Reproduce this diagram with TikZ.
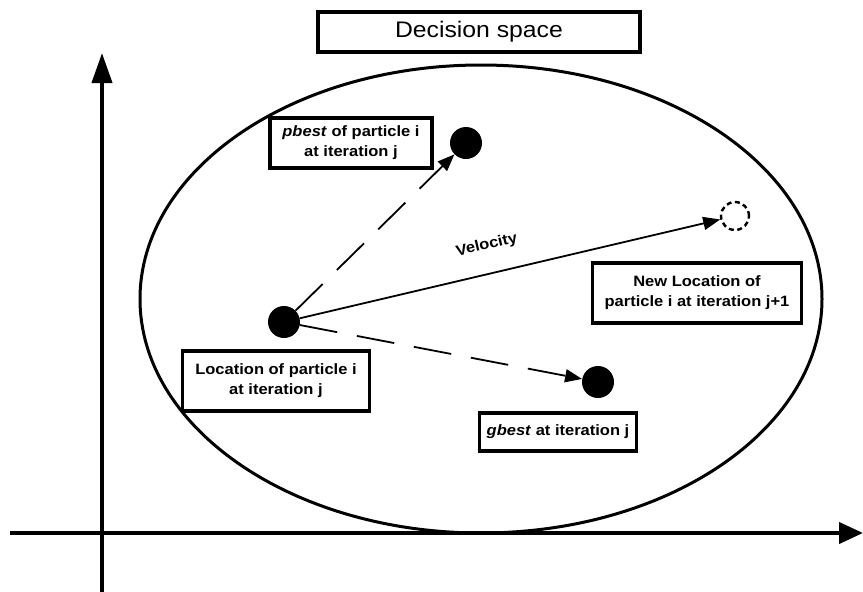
\documentclass[tikz,border=0pt]{standalone}
\usepackage{fontspec}
\setmainfont[FakeStretch=1.1]{Liberation Sans}
\usetikzlibrary{arrows.meta}

\begin{document}
\begin{tikzpicture}[x=1pt,y=-1pt,
  axis/.style={line width=4pt},
  lbox/.style={draw,line width=3.2pt,font=\fontsize{15}{20}\selectfont\bfseries,align=center,inner sep=0pt},
  pdot/.style={circle,fill=black,minimum size=32pt,inner sep=0pt},
  move/.style={line width=1.8pt,dash pattern=on 38pt off 20pt,-{Triangle[length=17pt,width=13pt]}}]
 \useasboundingbox (0,0) rectangle (863,592);
 % axes
 \coordinate (xs) at (10,533);
 \coordinate (xe) at (863,533);
 \coordinate (ys) at (102,592);
 \coordinate (ye) at (102,53);
 \draw[axis,-{Triangle[length=24pt,width=21pt]}] (xs)--(xe);
 \draw[axis,-{Triangle[length=30pt,width=20pt]}] (ys)--(ye);
 % the decision space
 \draw[line width=3pt] (481,299) ellipse[x radius=341,y radius=234];
 \node[lbox,minimum width=322pt,minimum height=40pt,
       font=\fontsize{22.5}{26}\selectfont] (title) at (479,32) {Decision space};
 % particles
 \node[pdot] (loc) at (284,322) {};
 \node[pdot] (pbest) at (466,143) {};
 \node[pdot] (gbest) at (598,382) {};
 \node[circle,draw,line width=2.4pt,dash pattern=on 5pt off 3.5pt,
       minimum size=28pt,inner sep=0pt] (new) at (735,216) {};
 \draw[move] (loc)--(pbest);
 \draw[move] (loc)--(gbest);
 \draw[line width=1.8pt,-{Triangle[length=17pt,width=13pt]}] (loc)--(new)
   node[pos=.46,above=17pt,sloped,font=\fontsize{15}{18}\selectfont\bfseries] (vel) {Velocity};
 % labels
 \node[lbox,minimum width=162pt,minimum height=50pt] (pbl) at (351,143)
      {\textit{pbest} of particle i\\at iteration j};
 \node[lbox,minimum width=187pt,minimum height=60pt] (locl) at (276,381)
      {Location of particle i\\at iteration j};
 \node[lbox,minimum width=209pt,minimum height=60pt] (newl) at (697,293)
      {New Location of\\particle i at iteration j+1};
 \node[lbox,minimum width=157pt,minimum height=38pt] (gbl) at (558,432)
      {\textit{gbest} at iteration j};
\end{tikzpicture}
\end{document}
